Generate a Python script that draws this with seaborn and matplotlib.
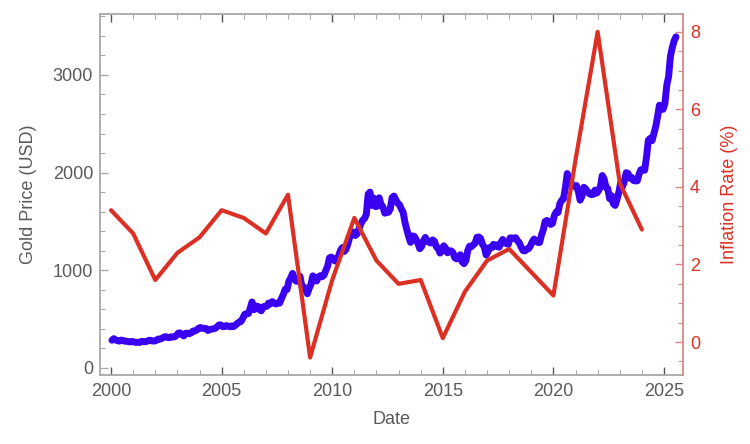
import numpy as np
import pandas as pd
import matplotlib
matplotlib.use("Agg")
import matplotlib.pyplot as plt
import seaborn as sns
from matplotlib.ticker import MultipleLocator

# ---- data ----
gold_years = list(range(2000, 2026))
gold_monthly = [
    [284, 300, 286, 280, 275, 285, 282, 274, 273, 270, 266, 272],
    [266, 262, 263, 261, 272, 270, 268, 273, 283, 283, 276, 276],
    [282, 296, 294, 302, 314, 321, 314, 310, 319, 317, 319, 333],
    [357, 359, 340, 328, 355, 356, 351, 360, 378, 379, 389, 407],
    [414, 405, 406, 404, 384, 392, 398, 400, 406, 420, 439, 442],
    [424, 423, 434, 429, 422, 430, 424, 438, 456, 470, 476, 510],
    [549, 555, 557, 610, 676, 596, 633, 632, 598, 585, 627, 629],
    [631, 665, 655, 679, 667, 655, 665, 665, 712, 754, 806, 803],
    [889, 922, 968, 909, 888, 889, 939, 839, 829, 806, 760, 816],
    [858, 943, 924, 890, 928, 945, 934, 949, 996, 1043, 1127, 1135],
    [1118, 1095, 1113, 1148, 1205, 1233, 1193, 1215, 1271, 1342, 1370, 1391],
    [1356, 1372, 1424, 1474, 1512, 1529, 1572, 1780, 1800, 1665, 1739, 1652],
    [1656, 1742, 1673, 1650, 1585, 1596, 1594, 1630, 1744, 1760, 1721, 1688],
    [1671, 1627, 1593, 1487, 1414, 1343, 1286, 1352, 1348, 1316, 1275, 1221],
    [1244, 1300, 1336, 1299, 1287, 1279, 1311, 1296, 1239, 1222, 1176, 1201],
    [1251, 1227, 1179, 1198, 1199, 1181, 1128, 1117, 1125, 1159, 1086, 1068],
    [1097, 1200, 1246, 1242, 1260, 1276, 1337, 1341, 1326, 1267, 1238, 1157],
    [1192, 1234, 1231, 1266, 1246, 1260, 1236, 1283, 1315, 1279, 1282, 1265],
    [1331, 1331, 1325, 1334, 1303, 1282, 1238, 1202, 1198, 1215, 1221, 1250],
    [1291, 1320, 1300, 1286, 1284, 1359, 1413, 1500, 1510, 1495, 1470, 1480],
    [1560, 1597, 1592, 1683, 1716, 1732, 1846, 1990, 1921, 1900, 1866, 1858],
    [1867, 1808, 1718, 1760, 1850, 1834, 1807, 1785, 1775, 1777, 1821, 1790],
    [1817, 1856, 1970, 1937, 1849, 1837, 1733, 1764, 1681, 1664, 1726, 1798],
    [1898, 1855, 1913, 1999, 1992, 1943, 1951, 1918, 1915, 1916, 1985, 2030],
    [2033, 2024, 2158, 2331, 2351, 2327, 2398, 2470, 2571, 2690, 2651, 2648],
    [2709, 2895, 2984, 3193, 3280, 3350, 3390],
]
inflation_years = list(range(2000, 2025))
inflation_rate = [3.4, 2.8, 1.6, 2.3, 2.7, 3.4, 3.2, 2.8, 3.8, -0.4,
                  1.6, 3.2, 2.1, 1.5, 1.6, 0.1, 1.3, 2.1, 2.4, 1.8,
                  1.2, 4.7, 8.0, 4.1, 2.9]

gold_t, gold_v = [], []
for y, vals in zip(gold_years, gold_monthly):
    for m, v in enumerate(vals):
        gold_t.append(y + (m + 0.5) / 12)
        gold_v.append(v)
gold_df = pd.DataFrame({"Date": gold_t, "Gold": gold_v})
infl_df = pd.DataFrame({"Date": inflation_years, "Inflation": inflation_rate})

# ---- style ----
sns.set_style("white")
plt.rcParams['font.family'] = ['Liberation Sans', 'DejaVu Sans']

BLUE = "#3A00F2"
RED = "#DC3025"
GRAY_TXT = "#5A5A5A"
GRAY_SP = "#A8A8A8"
RED_SP = "#E08585"

fig = plt.figure(figsize=(7.5, 4.44), dpi=100)
ax = fig.add_axes([0.1333, 0.1554, 0.7774, 0.8131])
ax2 = ax.twinx()

sns.lineplot(data=gold_df, x="Date", y="Gold", ax=ax, color=BLUE, lw=5.0)
sns.lineplot(data=infl_df, x="Date", y="Inflation", ax=ax2, color=RED, lw=3.0)

ax.set_xlim(1999.5, 2025.86)
ax.set_ylim(-72, 3624)
ax2.set_ylim(-0.85, 8.46)

ax.xaxis.set_major_locator(MultipleLocator(5))
ax.xaxis.set_minor_locator(MultipleLocator(1))
ax.yaxis.set_major_locator(MultipleLocator(1000))
ax.yaxis.set_minor_locator(MultipleLocator(200))
ax2.yaxis.set_major_locator(MultipleLocator(2))
ax2.yaxis.set_minor_locator(MultipleLocator(0.5))

for sp in ["left", "top", "bottom"]:
    ax.spines[sp].set_color(GRAY_SP)
    ax.spines[sp].set_linewidth(1.3)
ax.spines["right"].set_visible(False)
for sp in ["left", "top", "bottom"]:
    ax2.spines[sp].set_visible(False)
ax2.spines["right"].set_color(RED_SP)
ax2.spines["right"].set_linewidth(1.3)

ax.tick_params(axis="x", which="both", direction="in", top=True, bottom=True,
               color="#555555", labelsize=13, labelcolor=GRAY_TXT, pad=6)
ax.tick_params(axis="x", which="major", length=6, width=1)
ax.tick_params(axis="x", which="minor", length=3.5, width=0.8, color="#AAAAAA")
ax.tick_params(axis="y", which="both", direction="in", left=True, right=False,
               color="#AAAAAA", labelsize=13, labelcolor=GRAY_TXT, pad=5)
ax.tick_params(axis="y", which="major", length=6, width=1)
ax.tick_params(axis="y", which="minor", length=3.5, width=0.8)
ax2.tick_params(axis="y", which="both", direction="in", right=True, left=False,
                color=RED_SP, labelsize=13, labelcolor=RED, pad=5)
ax2.tick_params(axis="y", which="major", length=6, width=1)
ax2.tick_params(axis="y", which="minor", length=3.5, width=0.8)

ax.set_xlabel("Date", fontsize=13, color=GRAY_TXT, labelpad=8)
ax.set_ylabel("Gold Price (USD)", fontsize=13, color=GRAY_TXT, labelpad=11)
ax2.set_ylabel("Inflation Rate (%)", fontsize=13, color=RED, labelpad=15)

ax.set_zorder(1)
ax2.set_zorder(2)
ax.patch.set_visible(True)
ax2.patch.set_visible(False)

fig.savefig("out.png", dpi=100)
